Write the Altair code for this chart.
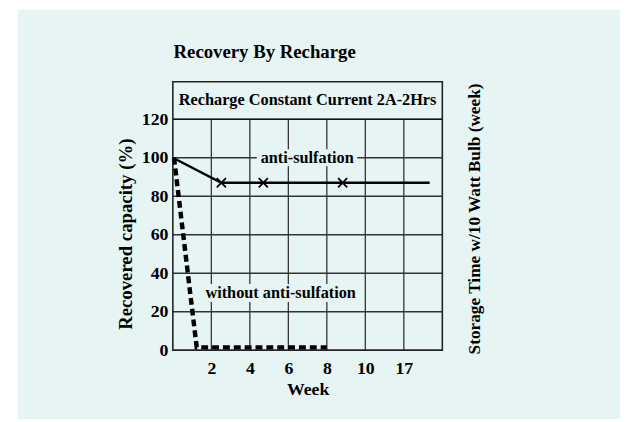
import altair as alt
import pandas as pd

# ---- text ----
title_text = "Recovery By Recharge"
header_text = "Recharge Constant Current 2A-2Hrs"
y_title = "Recovered capacity (%)"
x_title = "Week"
right_title = "Storage Time w/10 Watt Bulb (week)"

# ---- axes ----
week_pos = [1, 2, 3, 4, 5, 6]
week_labels = ["2", "4", "6", "8", "10", "17"]
y_ticks = [0, 20, 40, 60, 80, 100, 120]

# ---- series ----
anti_x = [0, 1.26, 6.67]
anti_y = [100, 87, 87]
marker_x = [1.26, 2.35, 4.41]
marker_y = [87, 87, 87]
without_x = [0.03, 0.62, 4.0]
without_y = [100, 1.5, 1.5]

# ---- in-plot labels ----
label_text = ["anti-sulfation", "without anti-sulfation"]
label_x = [3.49, 2.8]
label_y = [100, 29.7]
box_x1 = [2.18, 0.79]
box_x2 = [4.79, 4.69]
box_y1 = [95.6, 25.1]
box_y2 = [104.4, 34.4]

FONT = "Liberation Serif"
BG = "#e7f4f4"
W, H = 273, 272

xs = alt.Scale(domain=[0, 7], nice=False, zero=False)
ys = alt.Scale(domain=[0, 139.5], nice=False, zero=False)

label_expr = "[" + ",".join("'%s'" % l for l in week_labels) + "][datum.value - 1]"

xaxis = alt.Axis(values=week_pos, labelExpr=label_expr, title=x_title, grid=False, ticks=False,
                 domain=False, labelFont=FONT, labelFontSize=18, labelFontWeight="bold",
                 labelColor="black", labelPadding=10, labelFlush=False, labelOverlap=False,
                 titleFont=FONT, titleFontSize=18, titleFontWeight="bold", titleColor="black",
                 titleY=40, titleBaseline="middle", zindex=1)
yaxis = alt.Axis(values=y_ticks, title=y_title, grid=False, ticks=False, domain=False,
                 labelFont=FONT, labelFontSize=18, labelFontWeight="bold", labelColor="black",
                 labelPadding=5, labelFlush=False, labelOverlap=False,
                 titleFont=FONT, titleFontSize=19, titleFontWeight="bold", titleColor="black",
                 titleX=-48, titleY=154, titleAngle=270, titleBaseline="middle", zindex=1)

one = pd.DataFrame({"a": [0]})

background = alt.Chart(one).mark_rect(color=BG).encode(
    x=alt.value(-157), x2=alt.value(453), y=alt.value(-73), y2=alt.value(342))

hgrid = alt.Chart(pd.DataFrame({"y": y_ticks})).mark_rule(color="#333", strokeWidth=1.3).encode(
    y=alt.Y("y:Q", scale=ys, axis=yaxis), x=alt.value(0), x2=alt.value(W))

vgrid = alt.Chart(pd.DataFrame({"x": week_pos, "y0": [0] * 6, "y1": [120] * 6})).mark_rule(
    color="#333", strokeWidth=1.3).encode(
    x=alt.X("x:Q", scale=xs, axis=xaxis), y=alt.Y("y0:Q", scale=ys), y2="y1:Q")

header_line = alt.Chart(pd.DataFrame({"y": [120]})).mark_rule(color="#111", strokeWidth=1.6).encode(
    y=alt.Y("y:Q", scale=ys), x=alt.value(0), x2=alt.value(W))

border = alt.Chart(one).mark_rect(fillOpacity=0, stroke="#222", strokeWidth=1.6).encode(
    x=alt.value(0), x2=alt.value(W), y=alt.value(0), y2=alt.value(H))

header = alt.Chart(pd.DataFrame({"t": [header_text]})).mark_text(
    font=FONT, fontSize=16.5, fontWeight="bold", color="black", baseline="middle").encode(
    text="t:N", x=alt.datum(3.5, scale=xs), y=alt.datum(129.75, scale=ys))

lab_df = pd.DataFrame({"t": label_text, "x": label_x, "y": label_y,
                       "x1": box_x1, "x2": box_x2, "y1": box_y1, "y2": box_y2})
boxes = alt.Chart(lab_df).mark_rect(color=BG).encode(
    x=alt.X("x1:Q", scale=xs), x2="x2:Q", y=alt.Y("y1:Q", scale=ys), y2="y2:Q")

anti = alt.Chart(pd.DataFrame({"x": anti_x, "y": anti_y})).mark_line(
    color="black", strokeWidth=2.5).encode(
    x=alt.X("x:Q", scale=xs), y=alt.Y("y:Q", scale=ys))

markers = alt.Chart(pd.DataFrame({"x": marker_x, "y": marker_y})).mark_point(
    shape="M-1,-1L1,1M-1,1L1,-1", filled=False, color="black", strokeWidth=1.8, size=85,
    opacity=1).encode(x=alt.X("x:Q", scale=xs), y=alt.Y("y:Q", scale=ys))

without = alt.Chart(pd.DataFrame({"x": without_x, "y": without_y})).mark_line(
    color="black", strokeWidth=4.5, strokeDash=[7, 4]).encode(
    x=alt.X("x:Q", scale=xs), y=alt.Y("y:Q", scale=ys))

labels = alt.Chart(lab_df).mark_text(
    font=FONT, fontSize=16.5, fontWeight="bold", color="black", baseline="middle").encode(
    text="t:N", x=alt.X("x:Q", scale=xs), y=alt.Y("y:Q", scale=ys))

title = alt.Chart(pd.DataFrame({"t": [title_text]})).mark_text(
    font=FONT, fontSize=19, fontWeight="bold", color="black", baseline="middle").encode(
    text="t:N", x=alt.value(93), y=alt.value(-30))

rtitle = alt.Chart(pd.DataFrame({"t": [right_title]})).mark_text(
    font=FONT, fontSize=17.5, fontWeight="bold", color="black", baseline="middle", angle=270).encode(
    text="t:N", x=alt.value(306), y=alt.value(139))

chart = alt.layer(
    background, hgrid, vgrid, header_line, border, boxes, anti, without, markers,
    labels, header, title, rtitle
).properties(
    width=W, height=H,
    autosize=alt.AutoSizeParams(type="none"),
    padding={"left": 167, "top": 72, "right": 181, "bottom": 70},
    background="white",
).configure_view(stroke=None)

chart.save("out.html", embed_options={"renderer": "svg", "actions": False})
